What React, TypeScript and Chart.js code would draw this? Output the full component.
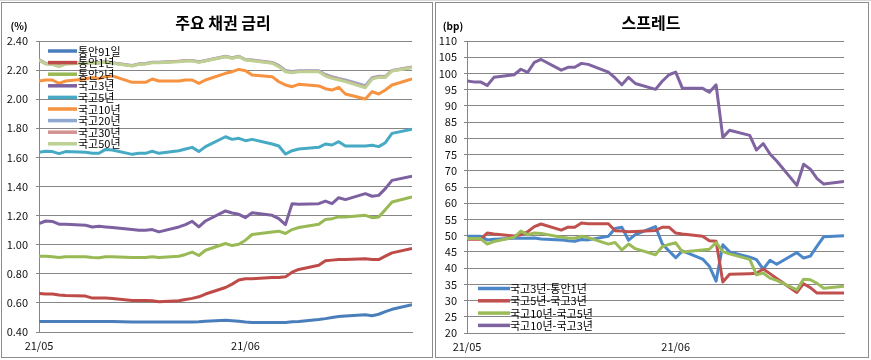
import React, { useEffect, useRef } from 'react';
import { Chart, registerables } from 'chart.js';
Chart.register(...registerables);

const FONT = '"Noto Sans CJK KR", "Noto Sans", sans-serif';

// trading dates (x positions follow calendar days, like an Excel date axis)
const dates = [
  '2021-05-03', '2021-05-04', '2021-05-05', '2021-05-06', '2021-05-07',
  '2021-05-10', '2021-05-11', '2021-05-12', '2021-05-13', '2021-05-14',
  '2021-05-17', '2021-05-18', '2021-05-19', '2021-05-20', '2021-05-21',
  '2021-05-24', '2021-05-25', '2021-05-26', '2021-05-27', '2021-05-28',
  '2021-05-31', '2021-06-01', '2021-06-02', '2021-06-03', '2021-06-04',
  '2021-06-07', '2021-06-08', '2021-06-09', '2021-06-10', '2021-06-11',
  '2021-06-14', '2021-06-15', '2021-06-16', '2021-06-17', '2021-06-18',
  '2021-06-21', '2021-06-22', '2021-06-23', '2021-06-24', '2021-06-25',
  '2021-06-28',
];
const axisEndDate = '2021-06-28';
const xTickDates = ['2021-05-03', '2021-06-03'];
const xTickLabels = ['21/05', '21/06'];

// ---- 주요 채권 금리 (%) ----
const rateNames = ['통안91일', '통안1년', '통안2년', '국고3년', '국고5년', '국고10년', '국고20년', '국고30년', '국고50년'];
const rateColors = ['#4A7EBB', '#BE4B48', '#98B954', '#7D60A0', '#46AAC5', '#F69240', '#8EA8D2', '#D49391', '#BDD194'];

const msb91d = [0.472, 0.472, 0.472, 0.472, 0.472, 0.472, 0.472, 0.472, 0.472, 0.472,
  0.468, 0.468, 0.468, 0.468, 0.468, 0.468, 0.468, 0.468, 0.47, 0.474,
  0.48, 0.478, 0.474, 0.468, 0.466, 0.466, 0.466, 0.466, 0.47, 0.472,
  0.486, 0.492, 0.5, 0.506, 0.51, 0.518, 0.512, 0.522, 0.54, 0.556, 0.587];
const msb1y = [0.665, 0.661, 0.661, 0.654, 0.651, 0.647, 0.633, 0.633, 0.633, 0.631,
  0.617, 0.617, 0.617, 0.615, 0.608, 0.615, 0.624, 0.631, 0.642, 0.661,
  0.706, 0.729, 0.757, 0.766, 0.766, 0.775, 0.775, 0.779, 0.811, 0.83,
  0.859, 0.889, 0.894, 0.898, 0.898, 0.903, 0.898, 0.898, 0.921, 0.944, 0.974];
const msb2y = [0.921, 0.921, 0.917, 0.912, 0.917, 0.917, 0.912, 0.91, 0.917, 0.917,
  0.912, 0.912, 0.912, 0.917, 0.912, 0.921, 0.933, 0.949, 0.926, 0.962,
  1.008, 0.994, 1.003, 1.031, 1.07, 1.088, 1.093, 1.077, 1.104, 1.118,
  1.141, 1.173, 1.179, 1.191, 1.191, 1.202, 1.186, 1.191, 1.241, 1.294, 1.328];
const ktb3y = [1.145, 1.163, 1.16, 1.141, 1.141, 1.134, 1.122, 1.127, 1.122, 1.118,
  1.104, 1.099, 1.099, 1.104, 1.088, 1.122, 1.138, 1.161, 1.122, 1.163,
  1.232, 1.218, 1.209, 1.186, 1.22, 1.202, 1.179, 1.138, 1.282, 1.278,
  1.282, 1.3, 1.282, 1.323, 1.31, 1.351, 1.333, 1.339, 1.385, 1.442, 1.47];
const ktb5y = [1.635, 1.642, 1.64, 1.626, 1.64, 1.635, 1.628, 1.628, 1.655, 1.651,
  1.621, 1.628, 1.628, 1.642, 1.628, 1.646, 1.658, 1.669, 1.64, 1.674,
  1.742, 1.724, 1.731, 1.715, 1.724, 1.692, 1.678, 1.623, 1.646, 1.658,
  1.669, 1.692, 1.685, 1.708, 1.678, 1.678, 1.683, 1.674, 1.701, 1.765, 1.793];
const ktb10y = [2.125, 2.132, 2.132, 2.109, 2.125, 2.139, 2.15, 2.141, 2.155, 2.16,
  2.116, 2.116, 2.116, 2.139, 2.125, 2.125, 2.132, 2.132, 2.109, 2.132,
  2.178, 2.189, 2.205, 2.196, 2.166, 2.155, 2.12, 2.098, 2.086, 2.102,
  2.091, 2.072, 2.063, 2.082, 2.036, 2.001, 2.052, 2.036, 2.063, 2.098, 2.139];
const ktb20y = [2.272, 2.246, 2.244, 2.228, 2.246, 2.25, 2.254, 2.25, 2.259, 2.25,
  2.232, 2.243, 2.245, 2.254, 2.254, 2.261, 2.266, 2.266, 2.257, 2.266,
  2.295, 2.285, 2.295, 2.273, 2.27, 2.253, 2.232, 2.197, 2.19, 2.195,
  2.196, 2.17, 2.155, 2.142, 2.132, 2.092, 2.148, 2.158, 2.156, 2.198, 2.221];
const ktb30y = [2.27, 2.244, 2.242, 2.226, 2.244, 2.249, 2.253, 2.249, 2.258, 2.249,
  2.23, 2.242, 2.244, 2.253, 2.253, 2.26, 2.265, 2.265, 2.255, 2.265,
  2.294, 2.283, 2.294, 2.271, 2.267, 2.25, 2.228, 2.193, 2.186, 2.192,
  2.192, 2.164, 2.149, 2.137, 2.126, 2.085, 2.143, 2.154, 2.153, 2.196, 2.219];
const ktb50y = [2.269, 2.242, 2.24, 2.224, 2.242, 2.247, 2.251, 2.247, 2.256, 2.247,
  2.228, 2.24, 2.242, 2.251, 2.251, 2.258, 2.263, 2.263, 2.253, 2.263,
  2.292, 2.281, 2.292, 2.269, 2.265, 2.247, 2.224, 2.189, 2.182, 2.189,
  2.189, 2.159, 2.143, 2.132, 2.121, 2.079, 2.139, 2.15, 2.15, 2.194, 2.217];
const rateSeries = [msb91d, msb1y, msb2y, ktb3y, ktb5y, ktb10y, ktb20y, ktb30y, ktb50y];
const rateMin = 0.4;
const rateMax = 2.4;
const rateStep = 0.2;

// ---- 스프레드 (bp) ----
const spreadNames = ['국고3년-통안1년', '국고5년-국고3년', '국고10년-국고5년', '국고10년-국고3년'];
const spreadColors = ['#4A86C8', '#C0504D', '#9BBB59', '#8064A2'];
const sp3yMinus1y = [49.8, 49.8, 49.8, 48.7, 48.9, 49.2, 49.2, 49.2, 49.3, 49.0,
  48.7, 48.4, 48.3, 48.8, 48.7, 49.8, 52.2, 52.6, 48.6, 50.3,
  52.8, 47.5, 45.3, 43.2, 45.3, 42.8, 40.6, 36.0, 47.2, 45.0,
  43.4, 42.6, 39.7, 42.4, 41.2, 44.8, 43.1, 43.7, 46.8, 49.7, 50.0];
const sp5yMinus3y = [48.9, 48.9, 48.9, 50.8, 50.5, 49.9, 50.3, 51.2, 52.8, 53.6,
  51.7, 52.6, 52.6, 53.9, 53.7, 53.7, 51.5, 51.4, 51.2, 51.3,
  51.6, 52.6, 52.6, 50.8, 50.5, 49.8, 48.4, 48.3, 35.7, 38.1,
  38.3, 38.4, 39.7, 38.3, 36.8, 32.5, 35.2, 34.0, 32.3, 32.3, 32.3];
const sp10yMinus5y = [49.1, 49.1, 49.1, 47.4, 48.2, 49.5, 51.4, 50.3, 50.8, 50.7,
  49.5, 49.3, 49.2, 49.8, 49.4, 47.4, 47.9, 45.6, 47.4, 46.0,
  44.1, 46.6, 47.3, 47.8, 45.0, 45.6, 45.8, 47.9, 45.1, 44.4,
  42.7, 37.9, 38.5, 36.9, 36.2, 33.3, 36.6, 36.4, 35.3, 33.8, 34.4];
const sp10yMinus3y = [97.7, 97.4, 97.4, 96.3, 98.8, 99.6, 101.3, 100.3, 103.4, 104.3,
  101.0, 101.9, 101.9, 103.1, 102.8, 100.4, 98.6, 96.5, 98.8, 96.9,
  95.1, 97.6, 99.6, 100.4, 95.4, 95.4, 94.2, 96.5, 80.3, 82.5,
  80.9, 76.4, 78.4, 75.2, 73.0, 65.5, 72.0, 70.5, 67.6, 65.9, 66.7];
const spreadSeries = [sp3yMinus1y, sp5yMinus3y, sp10yMinus5y, sp10yMinus3y];
const spreadMin = 20;
const spreadMax = 110;
const spreadStep = 5;

const DAY = 86400000;
const dayOf = (d: string) => (Date.parse(d) - Date.parse(dates[0])) / DAY;
const xTickDays = xTickDates.map(dayOf);

type Overlay = {
  title: string; titleX: number; titleY: number;
  unit: string; unitX: number; unitY: number;
  legX0: number; legX1: number; textX: number; legY: number; legStep: number;
};

const overlayPlugin = (o: Overlay) => ({
  id: 'overlayText',
  afterDraw(chart: any) {
    const ctx = chart.ctx;
    ctx.save();
    ctx.fillStyle = '#000';
    ctx.textBaseline = 'middle';
    ctx.textAlign = 'center';
    ctx.font = `bold 16px ${FONT}`;
    ctx.fillText(o.title, o.titleX, o.titleY);
    ctx.font = `bold 10px ${FONT}`;
    ctx.fillText(o.unit, o.unitX, o.unitY);
    ctx.textAlign = 'left';
    ctx.font = `11px ${FONT}`;
    chart.data.datasets.forEach((ds: any, i: number) => {
      const y = o.legY + i * o.legStep;
      ctx.strokeStyle = ds.borderColor;
      ctx.lineWidth = 3.5;
      ctx.beginPath();
      ctx.moveTo(o.legX0, y);
      ctx.lineTo(o.legX1, y);
      ctx.stroke();
      ctx.fillStyle = '#000';
      ctx.fillText(ds.label, o.textX, y + 0.5);
    });
    ctx.restore();
  },
});

function buildChart(
  canvas: HTMLCanvasElement,
  names: string[], colors: string[], series: number[][],
  yMin: number, yMax: number, yStep: number, decimals: number,
  yWidth: number, labelGap: number,
  padding: { left: number; right: number; top: number; bottom: number },
  overlay: Overlay,
) {
  const datasets = names.map((n, i) => ({
    label: n,
    data: series[i].map((v, j) => ({ x: dayOf(dates[j]), y: v })),
    borderColor: colors[i],
    backgroundColor: colors[i],
    borderWidth: 3,
    pointRadius: 0,
    tension: 0,
    fill: false,
    borderJoinStyle: 'round' as const,
    order: -i,
  }));
  return new Chart(canvas, {
    type: 'line',
    data: { datasets },
    options: {
      animation: false,
      responsive: false,
      devicePixelRatio: 1,
      layout: { padding },
      plugins: { legend: { display: false }, tooltip: { enabled: false }, title: { display: false } },
      scales: {
        x: {
          type: 'linear',
          min: 0,
          max: dayOf(axisEndDate),
          afterBuildTicks: (scale: any) => { scale.ticks = xTickDays.map((v) => ({ value: v })); },
          afterFit: (scale: any) => { scale.height = 20; },
          grid: { display: false, drawTicks: false },
          border: { display: true, color: '#868686', width: 1 },
          ticks: {
            autoSkip: false,
            maxRotation: 0,
            padding: 7,
            color: '#111',
            font: { family: FONT, size: 11 },
            callback: (_v: any, idx: number) => xTickLabels[idx],
          },
        },
        y: {
          min: yMin,
          max: yMax,
          afterFit: (scale: any) => { scale.width = yWidth; },
          grid: { color: '#868686', lineWidth: 1, tickLength: 3, drawTicks: true },
          border: { display: true, color: '#868686', width: 1 },
          ticks: {
            stepSize: yStep,
            autoSkip: false,
            padding: labelGap,
            color: '#111',
            font: { family: FONT, size: 11 },
            callback: (v: any) => Number(v).toFixed(decimals),
          },
        },
      },
    },
    plugins: [overlayPlugin(overlay)],
  } as any);
}

export default function App() {
  const leftRef = useRef<HTMLCanvasElement>(null);
  const rightRef = useRef<HTMLCanvasElement>(null);

  useEffect(() => {
    const c1 = buildChart(
      leftRef.current!, rateNames, rateColors, rateSeries,
      rateMin, rateMax, rateStep, 2, 39, 8,
      { left: 0, right: 22, top: 41, bottom: 8 },
      {
        title: '주요 채권 금리', titleX: 223, titleY: 23,
        unit: '(%)', unitX: 19, unitY: 26,
        legX0: 48, legX1: 77, textX: 78, legY: 51, legStep: 11.6,
      },
    );
    const c2 = buildChart(
      rightRef.current!, spreadNames, spreadColors, spreadSeries,
      spreadMin, spreadMax, spreadStep, 0, 33, 7,
      { left: 0, right: 27, top: 41, bottom: 7 },
      {
        title: '스프레드', titleX: 217, titleY: 23,
        unit: '(bp)', unitX: 19, unitY: 26,
        legX0: 44, legX1: 76, textX: 76, legY: 288.5, legStep: 12.3,
      },
    );
    return () => { c1.destroy(); c2.destroy(); };
  }, []);

  return (
    <div style={{ position: 'absolute', left: 0, top: 0, width: 871, height: 360, background: '#fff', overflow: 'hidden' }}>
      <div style={{ position: 'absolute', left: 0, top: 0, width: 871, height: 1, background: '#d9d9d9' }} />
      <div style={{ position: 'absolute', left: 1, top: 2, width: 432, height: 356, boxSizing: 'border-box', border: '1px solid #8c8c8c' }} />
      <div style={{ position: 'absolute', left: 435, top: 2, width: 434, height: 356, boxSizing: 'border-box', border: '1px solid #8c8c8c' }} />
      <canvas ref={leftRef} width={434} height={360} style={{ position: 'absolute', left: 0, top: 0, width: 434, height: 360 }} />
      <canvas ref={rightRef} width={437} height={360} style={{ position: 'absolute', left: 434, top: 0, width: 437, height: 360 }} />
    </div>
  );
}
